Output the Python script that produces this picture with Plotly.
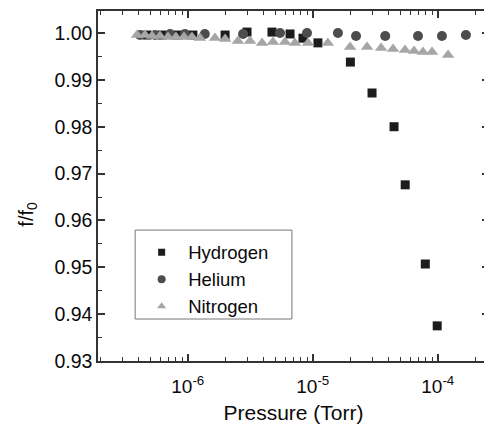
import plotly.graph_objects as go

# ---- data ----
h2_p = [4.72e-7, 6.22e-7, 8.36e-7, 1.10e-6, 1.99e-6, 2.98e-6, 4.72e-6, 6.58e-6,
        8.35e-6, 1.10e-5, 2.0e-5, 2.98e-5, 4.47e-5, 5.49e-5, 7.95e-5, 9.9e-5]
h2_f = [0.99957, 0.99957, 0.99957, 0.99957, 0.99957, 1.0002, 1.0002, 0.9998,
        0.9989, 0.9979, 0.9938, 0.9872, 0.9800, 0.9676, 0.9507, 0.9375]

he_p = [4.15e-7, 5.47e-7, 7.22e-7, 9.5e-7, 1.37e-6, 2.77e-6, 5.47e-6, 9.0e-6,
        1.59e-5, 2.22e-5, 3.8e-5, 6.95e-5, 1.08e-4, 1.68e-4]
he_f = [0.99957, 0.99957, 0.9998, 0.9998, 0.9998, 0.9998, 1.0000, 1.0000,
        1.0000, 0.99936, 0.99936, 0.99936, 0.99936, 0.99957]

n2_p = [3.93e-7, 4.55e-7, 5.18e-7, 6.0e-7, 6.95e-7, 8.05e-7, 9.34e-7, 1.08e-6,
        1.25e-6, 1.65e-6, 1.99e-6, 2.52e-6, 3.15e-6, 3.93e-6, 4.81e-6, 6.0e-6,
        7.2e-6, 9.16e-6, 1.32e-5, 1.99e-5, 2.72e-5, 3.52e-5, 4.39e-5, 5.47e-5,
        6.46e-5, 7.62e-5, 9.0e-5, 1.21e-4]
n2_f = [0.99957, 0.99957, 0.99936, 0.99936, 0.99915, 0.99915, 0.99915, 0.99915,
        0.99893, 0.99893, 0.99872, 0.99829, 0.99829, 0.99787, 0.99808, 0.99808,
        0.99787, 0.99787, 0.99787, 0.99701, 0.99701, 0.9968, 0.99659, 0.99638,
        0.99616, 0.99595, 0.99595, 0.99531]

series_names = ["Hydrogen", "Helium", "Nitrogen"]

x_tickvals = [1e-6, 1e-5, 1e-4]
x_ticktext = ["10<sup>-6</sup>", "10<sup>-5</sup>", "10<sup>-4</sup>"]
x_minor = [m * 10 ** e for e in (-7, -6, -5, -4) for m in range(2, 10)]
y_tickvals = [0.93, 0.94, 0.95, 0.96, 0.97, 0.98, 0.99, 1.00]
y_ticktext = ["0.93", "0.94", "0.95", "0.96", "0.97", "0.98", "0.99", "1.00"]

FONT = "Liberation Sans, Arial, sans-serif"
TXT = "#0a0a0a"
AX = "#333333"

styles = [
    dict(symbol="square", size=9, color="#1c1c1c"),
    dict(symbol="circle", size=10, color="#4d4d4d"),
    dict(symbol="triangle-up", size=11, color="#a6a6a6"),
]
legend_sizes = [7, 8, 8]

fig = go.Figure()
for name, xs, ys, st in zip(series_names, [h2_p, he_p, n2_p], [h2_f, he_f, n2_f], styles):
    fig.add_trace(go.Scatter(x=xs, y=ys, mode="markers", name=name, marker=st,
                             showlegend=False))
# legend entries with the small symbols of the reference
for name, st, ls in zip(series_names, styles, legend_sizes):
    fig.add_trace(go.Scatter(x=[None], y=[None], mode="markers", name=name,
                             marker=dict(symbol=st["symbol"], size=ls, color=st["color"])))

axis_common = dict(showline=True, linecolor=AX, linewidth=1.5, mirror="ticks",
                   ticks="inside", ticklen=7, tickwidth=1.5, tickcolor=AX,
                   showgrid=False, zeroline=False, automargin=False)

fig.update_xaxes(type="log", range=[-6.718, -3.59],
                 tickmode="array", tickvals=x_tickvals, ticktext=x_ticktext,
                 tickfont=dict(family=FONT, size=19, color=TXT),
                 ticklabelstandoff=7,
                 minor=dict(tickmode="array", tickvals=x_minor, ticks="inside",
                            ticklen=4, tickwidth=1.2, tickcolor=AX),
                 title=dict(text="Pressure (Torr)", font=dict(family=FONT, size=21, color=TXT),
                            standoff=10),
                 **axis_common)
fig.update_yaxes(range=[0.93, 1.0047],
                 tickmode="array", tickvals=y_tickvals, ticktext=y_ticktext,
                 tickfont=dict(family=FONT, size=19.5, color=TXT),
                 minor=dict(dtick=0.005, tick0=0.93, ticks="inside",
                            ticklen=4, tickwidth=1.2, tickcolor=AX),
                 **axis_common)

# y-axis title placed like the reference (slightly below centre)
fig.add_annotation(text="f/f<sub>0</sub>", xref="paper", yref="paper",
                   x=-0.1825, y=0.42, xanchor="center", yanchor="middle",
                   textangle=-90, showarrow=False,
                   font=dict(family=FONT, size=20, color=TXT))

# legend frame
fig.add_shape(type="rect", xref="paper", yref="paper",
              x0=0.095, x1=0.496, y0=0.12, y1=0.374,
              line=dict(color="#777777", width=1), fillcolor="rgba(0,0,0,0)")

fig.update_layout(
    width=484, height=418,
    margin=dict(l=90, r=3, t=3, b=65),
    paper_bgcolor="white", plot_bgcolor="white",
    font=dict(family=FONT, color=TXT),
    legend=dict(x=0.095, y=0.364, xanchor="left", yanchor="top",
                borderwidth=0, bgcolor="rgba(0,0,0,0)",
                itemwidth=43,
                font=dict(family=FONT, size=18.5, color=TXT)),
)

fig.write_html("out.html")
